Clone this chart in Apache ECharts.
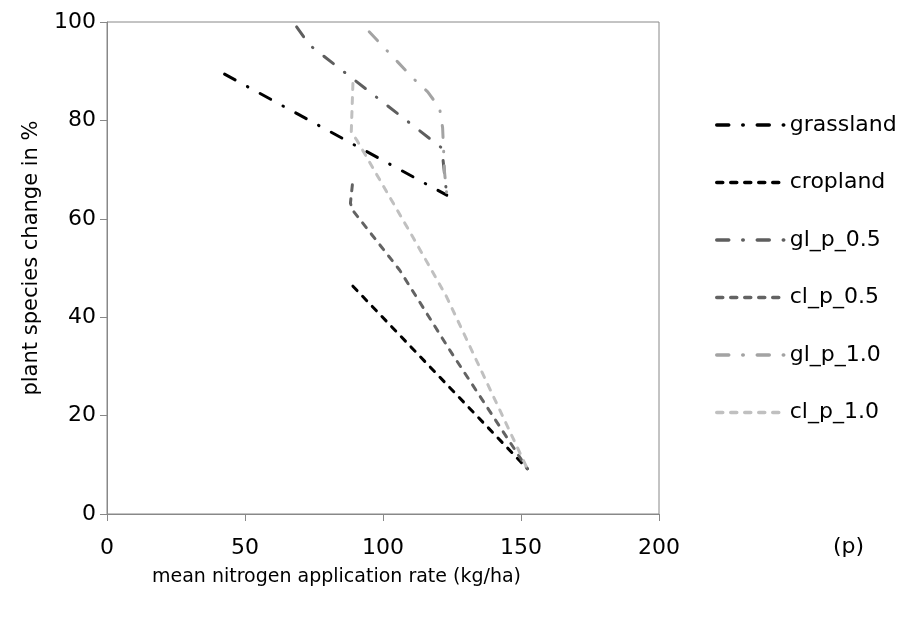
<!DOCTYPE html>
<html>
<head>
<meta charset="utf-8">
<script src="https://cdn.jsdelivr.net/npm/echarts@6/dist/echarts.min.js"></script>
<style>
  html, body { margin: 0; padding: 0; background: #fff; }
  #chart { width: 912px; height: 624px; }
</style>
</head>
<body>
<div id="chart"></div>
<script>
// series names, in legend order
var seriesNames = ['grassland', 'cropland', 'gl_p_0.5', 'cl_p_0.5', 'gl_p_1.0', 'cl_p_1.0'];

// [nitrogen rate, species change %]
var grassland = [[42.6, 89.4], [123.1, 64.8]];
var cropland = [[89.1, 46.3], [152.3, 9.2]];
var glP05 = [[68.7, 99.0], [73.4, 95.3], [121.3, 74.4], [123.1, 64.8]];
var clP05 = [[88.9, 66.9], [88.2, 63.2], [88.9, 61.8], [106.0, 49.6], [124.2, 33.3], [152.3, 9.2]];
var glP10 = [[95.0, 98.0], [105.3, 91.9], [110.8, 88.6], [116.2, 85.8], [120.5, 82.5], [121.6, 78.5], [122.3, 69.5], [123.1, 64.8]];
var clP10 = [[89.1, 87.5], [88.5, 77.6], [90.5, 76.0], [110.8, 56.3], [123.0, 44.2], [152.3, 9.2]];

var xTicks = [0, 50, 100, 150, 200];
var yTicks = [0, 20, 40, 60, 80, 100];

var FONT = 'DejaVu Sans';
var dashDot = [12, 14, 0.5, 14];
var dashed = [6, 8];

function mkLine(name, data, color, dash) {
  return {
    name: name,
    type: 'line',
    data: data,
    symbol: 'none',
    smooth: false,
    silent: true,
    lineStyle: { color: color, width: 3, type: dash, cap: 'round' },
    itemStyle: { color: color }
  };
}

var myChart = echarts.init(document.getElementById('chart'));
var option = {
  backgroundColor: '#fff',
  animation: false,
  grid: {
    left: 107, right: 253, top: 22, bottom: 110,
    show: true, borderColor: '#888', borderWidth: 1, backgroundColor: 'transparent'
  },
  legend: {
    orient: 'vertical',
    left: 710,
    top: 109,
    itemWidth: 68,
    itemHeight: 14,
    itemGap: 35.5,
    data: seriesNames,
    itemStyle: { opacity: 0 },
    lineStyle: { width: 3.5 },
    textStyle: { color: '#000', fontSize: 22, lineHeight: 22, fontFamily: FONT }
  },
  xAxis: {
    type: 'value',
    min: xTicks[0], max: xTicks[xTicks.length - 1], interval: 50,
    splitLine: { show: false },
    axisLine: { lineStyle: { color: '#888' } },
    axisTick: { show: true, inside: false, length: 7, lineStyle: { color: '#888' } },
    axisLabel: { color: '#000', fontSize: 22, fontFamily: FONT, margin: 23 }
  },
  yAxis: {
    type: 'value',
    min: yTicks[0], max: yTicks[yTicks.length - 1], interval: 20,
    splitLine: { show: false },
    axisLine: { show: true, lineStyle: { color: '#888' } },
    axisTick: { show: true, inside: false, length: 7, lineStyle: { color: '#888' } },
    axisLabel: { color: '#000', fontSize: 22, fontFamily: FONT, margin: 11 }
  },
  graphic: [
    {
      type: 'text', left: 152, top: 568,
      style: { text: 'mean nitrogen application rate (kg/ha)', fill: '#000', font: '19px ' + FONT }
    },
    {
      type: 'text', left: 833, top: 536,
      style: { text: '(p)', fill: '#000', font: '22px ' + FONT }
    },
    {
      type: 'text', x: 32, y: 258, rotation: Math.PI / 2,
      style: { text: 'plant species change in %', fill: '#000', font: '21px ' + FONT, align: 'center', verticalAlign: 'middle' }
    }
  ],
  series: [
    mkLine('grassland', grassland, '#000000', dashDot),
    mkLine('cropland', cropland, '#000000', dashed),
    mkLine('gl_p_0.5', glP05, '#5e5e5e', dashDot),
    mkLine('cl_p_0.5', clP05, '#636363', dashed),
    mkLine('gl_p_1.0', glP10, '#a3a3a3', dashDot),
    mkLine('cl_p_1.0', clP10, '#c0c0c0', dashed)
  ]
};
myChart.setOption(option);
</script>
</body>
</html>
